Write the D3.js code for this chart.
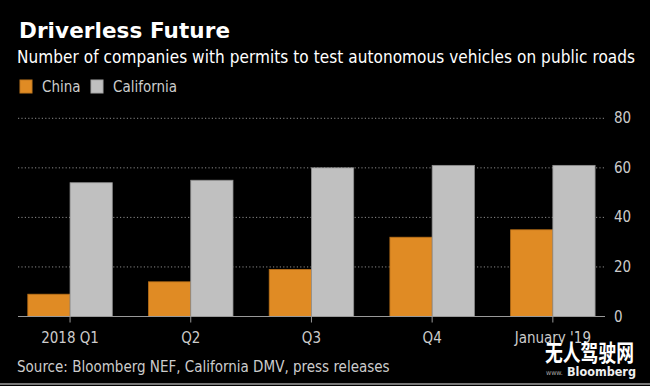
<!DOCTYPE html>
<html>
<head>
<meta charset="utf-8">
<script src="https://cdn.jsdelivr.net/npm/d3@7"></script>
<style>
  body { margin: 0; background: #000; }
  svg { display: block; font-family: "Liberation Sans Narrow", "DejaVu Sans Condensed", sans-serif; }
</style>
</head>
<body>
<svg width="650" height="386"></svg>
<script>
// data
var periods = ["2018 Q1", "Q2", "Q3", "Q4", "January '19"];
var series = ["China", "California"];
var china = [9, 14, 19, 32, 35];
var california = [54, 55, 60, 61, 61];
var yTicks = [0, 20, 40, 60, 80];

var colors = { China: "#e08b24", California: "#c0c0c0" };

var svg = d3.select("svg"),
    width = +svg.attr("width"),
    height = +svg.attr("height");

svg.append("rect").attr("width", width).attr("height", height).attr("fill", "#000");

// header
svg.append("text")
    .attr("x", 19).attr("y", 38)
    .attr("fill", "#fff")
    .style("font-family", "'DejaVu Sans', sans-serif")
    .style("font-weight", "bold")
    .style("font-size", "21.5px")
    .attr("textLength", 211)
    .text("Driverless Future");

svg.append("text")
    .attr("x", 17).attr("y", 63)
    .attr("fill", "#fff")
    .style("font-size", "17px")
    .attr("textLength", 618)
    .text("Number of companies with permits to test autonomous vehicles on public roads");

// legend
var leg = svg.append("g").attr("transform", "translate(20,80)");
var legX = [0, 71];
series.forEach(function(s, i) {
    leg.append("rect")
        .attr("x", legX[i]).attr("y", 0)
        .attr("width", 12).attr("height", 13)
        .attr("fill", colors[s])
        .attr("stroke", d3.color(colors[s]).darker(0.4));
    leg.append("text")
        .attr("x", legX[i] + 22).attr("y", 12)
        .attr("fill", "#ccc")
        .style("font-size", "15px")
        .text(s);
});

// scales
var x0 = d3.scaleBand().domain(periods).range([9.7, 613.2])
    .paddingInner(0.3).paddingOuter(0.15);
var x1 = d3.scaleBand().domain(series).range([0, x0.bandwidth()]);
var y = d3.scaleLinear().domain([0, 80]).range([316.5, 118.3]);

var plotLeft = 18, plotRight = 605;

// grid
svg.append("g").selectAll("line")
    .data(yTicks.slice(1))
    .enter().append("line")
    .attr("x1", plotLeft).attr("x2", plotRight)
    .attr("y1", function(d) { return y(d); })
    .attr("y2", function(d) { return y(d); })
    .attr("stroke", "#8a8a8a")
    .attr("stroke-width", 1)
    .attr("stroke-dasharray", "1.2,2.2");

// bars
var rows = periods.map(function(p, i) {
    return { period: p, values: [{ s: "China", v: china[i] }, { s: "California", v: california[i] }] };
});

var groups = svg.append("g").selectAll("g")
    .data(rows).enter().append("g")
    .attr("transform", function(d) { return "translate(" + x0(d.period) + ",0)"; });

groups.selectAll("rect")
    .data(function(d) { return d.values; })
    .enter().append("rect")
    .attr("x", function(d) { return x1(d.s); })
    .attr("width", x1.bandwidth())
    .attr("y", function(d) { return y(d.v); })
    .attr("height", function(d) { return y(0) - y(d.v); })
    .attr("fill", function(d) { return colors[d.s]; })
    .attr("stroke", function(d) { return d.s == "China" ? "#b86f18" : "#8f8f8f"; })
    .attr("stroke-width", 0.8);

// baseline and ticks
svg.append("line")
    .attr("x1", plotLeft).attr("x2", plotRight)
    .attr("y1", y(0)).attr("y2", y(0))
    .attr("stroke", "#999").attr("stroke-width", 1.2);

var xAxis = svg.append("g");
xAxis.selectAll("line")
    .data(periods).enter().append("line")
    .attr("x1", function(d) { return x0(d) + x0.bandwidth() / 2; })
    .attr("x2", function(d) { return x0(d) + x0.bandwidth() / 2; })
    .attr("y1", y(0)).attr("y2", y(0) + 6)
    .attr("stroke", "#999");
xAxis.selectAll("text")
    .data(periods).enter().append("text")
    .attr("x", function(d) { return x0(d) + x0.bandwidth() / 2; })
    .attr("y", 343)
    .attr("text-anchor", "middle")
    .attr("fill", "#ccc")
    .style("font-size", "15px")
    .text(function(d) { return d; });

// y labels on the right
svg.append("g").selectAll("text")
    .data(yTicks).enter().append("text")
    .attr("x", 614)
    .attr("y", function(d) { return y(d) + 5; })
    .attr("fill", "#ccc")
    .style("font-size", "15px")
    .text(function(d) { return d; });

// source
svg.append("text")
    .attr("x", 17).attr("y", 372)
    .attr("fill", "#ccc")
    .style("font-size", "15px")
    .text("Source: Bloomberg NEF, California DMV, press releases");

// watermark
svg.append("text")
    .attr("x", 545).attr("y", 361)
    .attr("fill", "#fff")
    .style("font-family", "'Noto Sans CJK SC', sans-serif")
    .style("font-weight", "bold")
    .style("font-size", "23px")
    .attr("textLength", 89)
    .attr("lengthAdjust", "spacingAndGlyphs")
    .text("无人驾驶网");
svg.append("text")
    .attr("x", 546).attr("y", 375)
    .attr("fill", "#aaa")
    .style("font-size", "7px")
    .text("www.");
svg.append("text")
    .attr("x", 567).attr("y", 376)
    .attr("fill", "#eee")
    .style("font-family", "'DejaVu Sans', sans-serif")
    .style("font-weight", "bold")
    .style("font-size", "12px")
    .attr("textLength", 69)
    .attr("lengthAdjust", "spacingAndGlyphs")
    .text("Bloomberg");

// bottom rule
svg.append("line")
    .attr("x1", 0).attr("x2", width)
    .attr("y1", 384).attr("y2", 384)
    .attr("stroke", "#777").attr("stroke-width", 2);
</script>
</body>
</html>
